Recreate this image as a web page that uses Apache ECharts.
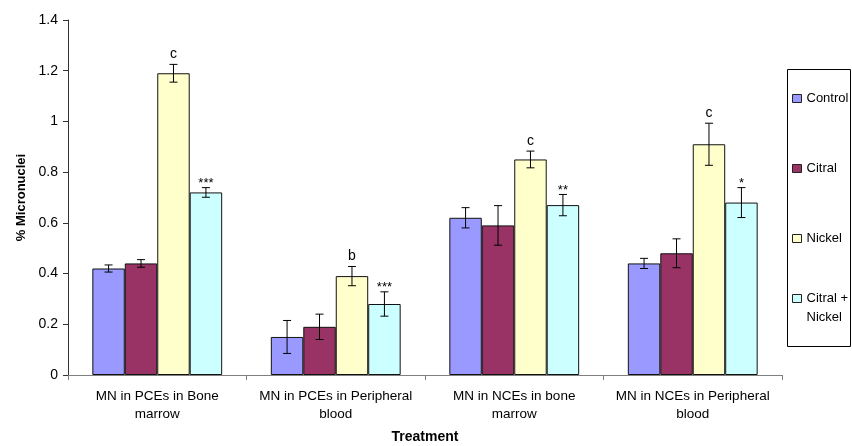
<!DOCTYPE html>
<html><head><meta charset="utf-8">
<script src="https://cdn.jsdelivr.net/npm/echarts@6/dist/echarts.min.js"></script>
<style>html,body{margin:0;padding:0;background:#fff}#c{width:852px;height:446px}</style>
</head><body><div id="c"></div>
<script>
const categories = ['MN in PCEs in Bone\nmarrow', 'MN in PCEs in Peripheral\nblood', 'MN in NCEs in bone\nmarrow', 'MN in NCEs in Peripheral\nblood'];
const seriesNames = ['Control', 'Citral', 'Nickel', 'Citral + Nickel'];
const control = [0.42, 0.15, 0.62, 0.44];
const controlErr = [0.014, 0.065, 0.04, 0.02];
const citral = [0.44, 0.19, 0.59, 0.48];
const citralErr = [0.015, 0.05, 0.078, 0.057];
const nickel = [1.19, 0.39, 0.85, 0.91];
const nickelErr = [0.035, 0.038, 0.033, 0.083];
const citralNickel = [0.72, 0.28, 0.67, 0.68];
const citralNickelErr = [0.019, 0.048, 0.042, 0.059];
const nickelMarks = ['c', 'b', 'c', 'c'];
const citralNickelMarks = ['***', '***', '**', '*'];
const colors = ['#9999FF', '#993366', '#FFFFCC', '#CCFFFF'];

const FONT = 'Liberation Sans, Arial, sans-serif';
const GAP = 1.5 / 5.5;

function barSeries(name, vals, idx) {
  return {
    name: name, type: 'bar', data: vals,
    barGap: '0%', barCategoryGap: (GAP * 100) + '%',
    itemStyle: { color: colors[idx], borderColor: '#111', borderWidth: 1 },
    emphasis: { disabled: true }, animation: false
  };
}
function errSeries(vals, errs, marks, slot) {
  return {
    type: 'custom', silent: true, z: 5, animation: false,
    encode: { x: 0, y: 1 },
    data: vals.map((v, i) => [i, v, errs[i]]),
    renderItem: function (params, api) {
      const ci = api.value(0), m = api.value(1), e = api.value(2);
      const band = api.size([1, 0])[0];
      const bw = band * (1 - GAP) / 4;
      const cx = api.coord([ci, m])[0] + (slot - 1.5) * bw;
      const yT = api.coord([ci, m + e])[1];
      const yB = api.coord([ci, m - e])[1];
      const cap = 4;
      const st = { stroke: '#000', lineWidth: 1 };
      const ch = [
        { type: 'line', shape: { x1: cx, y1: yT, x2: cx, y2: yB }, style: st },
        { type: 'line', shape: { x1: cx - cap, y1: yT, x2: cx + cap, y2: yT }, style: st },
        { type: 'line', shape: { x1: cx - cap, y1: yB, x2: cx + cap, y2: yB }, style: st }
      ];
      const mk = marks ? marks[params.dataIndex] : '';
      if (mk) {
        const isStar = mk.indexOf('*') >= 0;
        ch.push({ type: 'text', style: { text: mk, x: cx, y: isStar ? yT + 2 : yT - 3, align: 'center', verticalAlign: 'bottom', fill: '#000', font: (isStar ? '13px ' : '14px ') + FONT } });
      }
      return { type: 'group', children: ch };
    }
  };
}

const legendTops = [89, 159, 229, 270];
const legends = seriesNames.map((n, i) => ({
  left: 792, top: legendTops[i], orient: 'vertical',
  padding: 0, itemWidth: 9, itemHeight: 8, itemGap: 4, icon: 'rect',
  selectedMode: false,
  data: [n],
  formatter: function (name) { return name.indexOf(' + ') >= 0 ? '\n' + name.replace(' + ', ' +\n') : name; },
  itemStyle: { borderColor: '#222', borderWidth: 1 },
  textStyle: { fontFamily: FONT, fontSize: 13, color: '#000', lineHeight: 19 }
}));

const chart = echarts.init(document.getElementById('c'), null, { renderer: 'canvas' });
chart.setOption({
  animation: false,
  backgroundColor: '#fff',
  grid: { left: 68, right: 70, top: 20, bottom: 71, containLabel: false, outerBoundsMode: 'none' },
  legend: legends,
  graphic: [{ type: 'rect', shape: { x: 787.5, y: 69.5, width: 63, height: 277 }, style: { fill: 'none', stroke: '#000', lineWidth: 1 }, silent: true }],
  xAxis: {
    type: 'category', data: categories,
    name: 'Treatment', nameLocation: 'middle', nameGap: 55,
    nameTextStyle: { fontFamily: FONT, fontSize: 14, fontWeight: 'bold', color: '#000' },
    axisLine: { lineStyle: { color: '#808080', width: 1 } },
    axisTick: { show: true, inside: false, length: 5, alignWithLabel: false, lineStyle: { color: '#808080' } },
    axisLabel: { fontFamily: FONT, fontSize: 13.5, color: '#000', margin: 12, lineHeight: 18, interval: 0 },
    splitLine: { show: false }
  },
  yAxis: {
    type: 'value', min: 0, max: 1.4, interval: 0.2,
    name: '% Micronuclei', nameLocation: 'middle', nameGap: 40, nameRotate: 90,
    nameTextStyle: { fontFamily: FONT, fontSize: 13, fontWeight: 'bold', color: '#000' },
    axisLine: { show: true, lineStyle: { color: '#333', width: 1 } },
    axisTick: { show: true, inside: false, length: 5, lineStyle: { color: '#333' } },
    axisLabel: { fontFamily: FONT, fontSize: 14, color: '#000', margin: 10 },
    splitLine: { show: false }
  },
  series: [
    barSeries('Control', control, 0),
    barSeries('Citral', citral, 1),
    barSeries('Nickel', nickel, 2),
    barSeries('Citral + Nickel', citralNickel, 3),
    errSeries(control, controlErr, null, 0),
    errSeries(citral, citralErr, null, 1),
    errSeries(nickel, nickelErr, nickelMarks, 2),
    errSeries(citralNickel, citralNickelErr, citralNickelMarks, 3)
  ]
});
</script></body></html>
